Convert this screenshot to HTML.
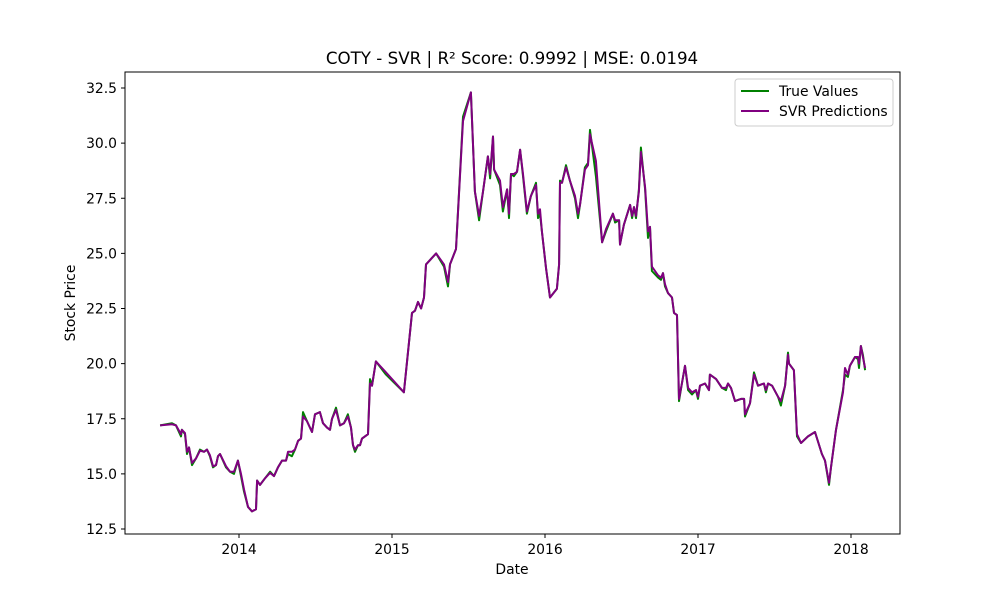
<!DOCTYPE html>
<html><head><meta charset="utf-8"><style>
body{margin:0;background:#fff;}
svg text{font-family:"DejaVu Sans","Liberation Sans",sans-serif;}
</style></head><body>
<svg id="chart" width="1000" height="600" viewBox="0 0 1000 600" xmlns="http://www.w3.org/2000/svg">
<rect x="0" y="0" width="1000" height="600" fill="#fff"/>
<text x="512" y="64" font-size="16.7" text-anchor="middle">COTY - SVR | R² Score: 0.9992 | MSE: 0.0194</text>
<g id="plot"></g>
<rect x="125" y="72" width="775" height="462" fill="none" stroke="#000" stroke-width="1"/>
<text x="512" y="574" font-size="13.9" text-anchor="middle">Date</text>
<text x="75" y="303" font-size="13.9" text-anchor="middle" transform="rotate(-90 75 303)">Stock Price</text>
<g>
<rect x="735" y="79" width="158" height="47" rx="3" fill="#fff" stroke="#ccc"/>
<line x1="741" y1="91" x2="769" y2="91" stroke="green" stroke-width="2"/>
<text x="779" y="96" font-size="13.9">True Values</text>
<line x1="741" y1="111" x2="769" y2="111" stroke="purple" stroke-width="2"/>
<text x="779" y="116" font-size="13.9">SVR Predictions</text>
</g>
</svg>
<script>
const dates=[2013.484,2013.562,2013.588,2013.621,2013.627,2013.647,2013.660,2013.673,2013.693,2013.719,2013.745,2013.771,2013.791,2013.810,2013.830,2013.850,2013.863,2013.876,2013.915,2013.941,2013.967,2013.993,2014.013,2014.033,2014.059,2014.085,2014.111,2014.118,2014.137,2014.170,2014.203,2014.229,2014.255,2014.281,2014.307,2014.320,2014.346,2014.366,2014.386,2014.405,2014.418,2014.444,2014.477,2014.497,2014.529,2014.549,2014.575,2014.595,2014.608,2014.634,2014.660,2014.686,2014.712,2014.732,2014.745,2014.758,2014.778,2014.791,2014.804,2014.843,2014.856,2014.869,2014.895,2014.961,2015.078,2015.131,2015.150,2015.170,2015.190,2015.209,2015.222,2015.288,2015.340,2015.366,2015.379,2015.418,2015.464,2015.516,2015.542,2015.569,2015.595,2015.627,2015.641,2015.660,2015.667,2015.706,2015.725,2015.752,2015.765,2015.778,2015.797,2015.817,2015.837,2015.856,2015.882,2015.908,2015.941,2015.954,2015.967,2015.980,2016.007,2016.033,2016.078,2016.092,2016.098,2016.111,2016.137,2016.163,2016.196,2016.216,2016.229,2016.261,2016.281,2016.294,2016.333,2016.373,2016.399,2016.444,2016.458,2016.484,2016.490,2016.516,2016.556,2016.569,2016.582,2016.595,2016.614,2016.627,2016.654,2016.673,2016.686,2016.699,2016.739,2016.758,2016.771,2016.784,2016.804,2016.830,2016.843,2016.863,2016.876,2016.895,2016.915,2016.935,2016.961,2016.987,2017.000,2017.013,2017.046,2017.072,2017.078,2017.118,2017.157,2017.183,2017.196,2017.216,2017.242,2017.281,2017.301,2017.307,2017.340,2017.366,2017.392,2017.431,2017.444,2017.458,2017.484,2017.523,2017.542,2017.569,2017.588,2017.595,2017.627,2017.647,2017.673,2017.719,2017.765,2017.810,2017.830,2017.856,2017.869,2017.902,2017.948,2017.961,2017.980,2017.993,2018.026,2018.046,2018.052,2018.065,2018.078,2018.092];
const trueValues=[17.2,17.3,17.2,16.7,17.0,16.8,15.9,16.2,15.4,15.7,16.1,16.0,16.1,15.8,15.3,15.4,15.8,15.9,15.3,15.1,15.0,15.6,14.9,14.2,13.5,13.3,13.4,14.7,14.5,14.8,15.1,14.9,15.3,15.6,15.6,15.9,15.8,16.1,16.5,16.6,17.8,17.4,16.9,17.7,17.8,17.3,17.1,17.0,17.5,18.0,17.2,17.3,17.7,17.1,16.3,16.0,16.3,16.3,16.6,16.8,19.3,19.0,20.1,19.5,18.7,22.3,22.4,22.8,22.5,23.0,24.5,25.0,24.4,23.5,24.5,25.2,31.2,32.3,27.8,26.5,27.8,29.4,28.4,30.3,28.8,28.1,26.9,27.9,26.6,28.6,28.5,28.7,29.7,28.5,26.8,27.6,28.2,26.6,26.8,26.0,24.3,23.0,23.4,24.5,28.3,28.2,29.0,28.3,27.5,26.6,27.2,28.9,29.1,30.6,28.5,25.5,26.0,26.8,26.4,26.5,25.4,26.3,27.2,26.6,27.1,26.6,27.9,29.8,27.9,25.7,26.2,24.2,23.9,23.8,24.1,23.5,23.2,23.0,22.3,22.2,18.3,19.1,19.9,18.8,18.6,18.8,18.4,19.0,19.1,18.8,19.5,19.3,18.9,18.8,19.1,18.9,18.3,18.4,18.4,17.6,18.2,19.6,19.0,19.1,18.7,19.1,19.0,18.5,18.1,19.0,20.5,20.0,19.7,16.7,16.4,16.7,16.9,15.9,15.6,14.5,15.3,17.0,18.8,19.5,19.4,19.9,20.3,20.2,19.8,20.8,20.4,19.7];
const predValues=[17.2,17.25,17.2,16.8,17.0,16.85,16.0,16.2,15.5,15.7,16.05,16.0,16.1,15.85,15.35,15.4,15.8,15.9,15.35,15.1,15.1,15.6,15.0,14.3,13.5,13.3,13.4,14.7,14.5,14.8,15.05,14.9,15.3,15.6,15.6,16.0,16.0,16.1,16.5,16.6,17.6,17.4,16.9,17.7,17.8,17.3,17.1,17.0,17.5,17.9,17.2,17.3,17.6,17.1,16.3,16.1,16.3,16.3,16.6,16.8,19.1,19.0,20.1,19.6,18.7,22.3,22.4,22.8,22.5,23.0,24.5,25.0,24.5,23.7,24.5,25.2,31.0,32.3,27.8,26.7,27.8,29.4,28.6,30.3,28.8,28.3,27.1,27.9,26.8,28.6,28.6,28.7,29.7,28.6,26.9,27.6,28.1,26.8,27.0,26.0,24.3,23.0,23.4,24.5,28.2,28.2,28.9,28.3,27.6,26.8,27.2,28.8,29.0,30.4,29.2,25.5,26.1,26.8,26.5,26.5,25.4,26.3,27.2,26.7,27.1,26.7,27.8,29.6,28.0,26.0,26.2,24.4,24.0,23.9,24.1,23.6,23.2,23.0,22.3,22.2,18.4,19.1,19.9,18.9,18.7,18.8,18.5,19.0,19.1,18.8,19.5,19.3,18.9,18.9,19.1,18.9,18.3,18.4,18.4,17.7,18.2,19.5,19.0,19.1,18.8,19.1,19.0,18.5,18.3,19.0,20.4,20.0,19.7,16.8,16.4,16.7,16.9,15.9,15.6,14.6,15.3,17.0,18.7,19.8,19.5,19.9,20.3,20.3,20.0,20.8,20.3,19.8];
const xTicks=[2014,2015,2016,2017,2018];
const yTicks=[12.5,15.0,17.5,20.0,22.5,25.0,27.5,30.0,32.5];

const NS="http://www.w3.org/2000/svg";
const plot=document.getElementById('plot');
function xScale(t){return 239+(t-2014)*153;}
function yScale(v){return 529-(v-12.5)*(441/20);}
function mk(tag,attrs){const e=document.createElementNS(NS,tag);for(const k in attrs)e.setAttribute(k,attrs[k]);plot.appendChild(e);return e;}

xTicks.forEach(t=>{
  const x=xScale(t);
  const l=mk('line',{x1:x,y1:534,x2:x,y2:538,stroke:'#000'});
  
  
  const tx=mk('text',{x:x,y:554,'font-size':13.9,'text-anchor':'middle'});
  tx.textContent=String(t);
  
  
});
yTicks.forEach(v=>{
  const y=yScale(v);
  const l=mk('line',{x1:121,y1:y,x2:125,y2:y,stroke:'#000'});
  
  
  const tx=mk('text',{x:117,y:y+5,'font-size':13.9,'text-anchor':'end'});
  tx.textContent=v.toFixed(1);
  
  
});
function pts(vals){return dates.map((d,i)=>xScale(d).toFixed(1)+','+yScale(vals[i]).toFixed(1)).join(' ');}
const g=mk('polyline',{points:pts(trueValues),fill:'none',stroke:'green','stroke-width':2,'stroke-linejoin':'round'});


const p=mk('polyline',{points:pts(predValues),fill:'none',stroke:'purple','stroke-width':2,'stroke-linejoin':'round'});


</script>
</body></html>
